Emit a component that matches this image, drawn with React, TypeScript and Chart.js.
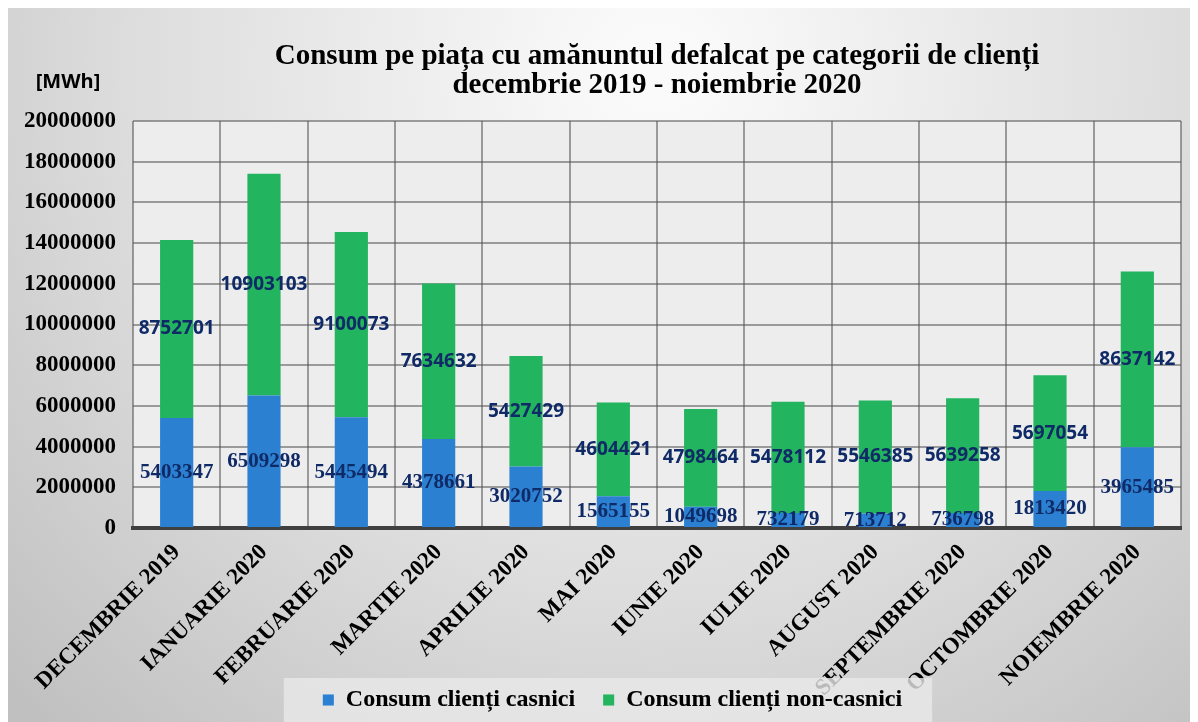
import React, { useEffect, useRef } from 'react';
import { Chart, registerables } from 'chart.js';

Chart.register(...registerables);

const titleLines = [
  'Consum pe piața cu amănuntul defalcat pe categorii de clienți',
  'decembrie 2019 - noiembrie 2020',
];
const unitLabel = '[MWh]';
const categories = [
  'DECEMBRIE 2019',
  'IANUARIE 2020',
  'FEBRUARIE 2020',
  'MARTIE 2020',
  'APRILIE 2020',
  'MAI 2020',
  'IUNIE 2020',
  'IULIE 2020',
  'AUGUST 2020',
  'SEPTEMBRIE 2020',
  'OCTOMBRIE 2020',
  'NOIEMBRIE 2020',
];
const seriesNames = ['Consum clienți casnici', 'Consum clienți non-casnici'];
const casnici = [5403347, 6509298, 5445494, 4378661, 3020752, 1565155, 1049698, 732179, 713712, 736798, 1813420, 3965485];
const nonCasnici = [8752701, 10903103, 9100073, 7634632, 5427429, 4604421, 4798464, 5478112, 5546385, 5639258, 5697054, 8637142];
const yMin = 0;
const yMax = 20000000;
const yStep = 2000000;

const SERIF = '"Liberation Serif", "Times New Roman", serif';
const SANS = '"Open Sans", "Liberation Sans", sans-serif';

export default function App() {
  const ref = useRef<HTMLCanvasElement>(null);

  useEffect(() => {
    document.documentElement.style.overflow = 'hidden';
    document.body.style.overflow = 'hidden';
    const canvas = ref.current!;

    const decor = {
      id: 'decor',
      afterLayout(chart: any) {
        const lg = chart.legend;
        if (lg) {
          lg.left += 36;
          lg.width -= 36;
        }
        const xs = chart.scales.x;
        if (xs) xs.bottom += 30;
      },
      beforeDraw(chart: any) {
        const c = chart.ctx;
        const { width, height, chartArea: a } = chart;
        c.save();
        const g = c.createRadialGradient(650, 60, 40, 650, 60, 900);
        g.addColorStop(0, '#fafafa');
        g.addColorStop(0.55, '#dedede');
        g.addColorStop(1, '#c0c0c0');
        c.fillStyle = g;
        c.fillRect(0, 0, width, height);
        c.fillStyle = '#ededed';
        c.fillRect(a.left, a.top, a.right - a.left, a.bottom - a.top);
        c.font = `bold 20px ${SANS}`;
        c.fillStyle = '#000';
        c.textAlign = 'center';
        c.textBaseline = 'middle';
        c.fillText(unitLabel, 60, 74);
        c.restore();
      },
      afterDatasetsDraw(chart: any) {
        const c = chart.ctx;
        c.save();
        const lg = chart.legend;
        if (lg && lg.legendHitBoxes && lg.legendHitBoxes.length) {
          const hb = lg.legendHitBoxes;
          const x0 = hb[0].left - 39;
          const last = hb[hb.length - 1];
          const x1 = last.left + last.width + 30;
          c.fillStyle = 'rgba(232,232,232,0.8)';
          c.fillRect(x0, lg.top, x1 - x0, lg.bottom - lg.top + 10);
          lg.draw();
        }
        c.textAlign = 'center';
        c.textBaseline = 'middle';
        c.fillStyle = '#0f2a66';
        chart.data.datasets.forEach((ds: any, di: number) => {
          const meta = chart.getDatasetMeta(di);
          c.font = di === 0 ? `bold 21px ${SERIF}` : `bold 19px ${SANS}`;
          meta.data.forEach((bar: any, i: number) => {
            const p = bar.getProps(['x', 'y', 'base'], true);
            c.fillText(String(ds.data[i]), p.x, (p.y + p.base) / 2);
          });
        });
        c.restore();
      },
    };

    const gridColor = 'rgba(85,85,85,0.55)';

    const chart = new Chart(canvas, {
      type: 'bar',
      data: {
        labels: categories,
        datasets: [
          {
            label: seriesNames[0],
            data: casnici,
            backgroundColor: '#2b80d2',
            barPercentage: 1,
            categoryPercentage: 0.38,
          },
          {
            label: seriesNames[1],
            data: nonCasnici,
            backgroundColor: '#22b45e',
            barPercentage: 1,
            categoryPercentage: 0.38,
          },
        ],
      },
      options: {
        responsive: false,
        animation: false,
        layout: { padding: { left: 0, right: 9, top: 0, bottom: 0 } },
        plugins: {
          title: {
            display: true,
            text: titleLines,
            fullSize: false,
            color: '#000',
            font: { family: SERIF, size: 29, weight: 'bold', lineHeight: 0.966 },
            padding: { top: 35, bottom: 22 },
          },
          legend: {
            position: 'bottom',
            labels: {
              boxWidth: 11,
              boxHeight: 11,
              padding: 10,
              color: '#000',
              font: { family: SERIF, size: 24, weight: 'bold' },
              generateLabels: (ch: any) => {
                const items = (Chart as any).defaults.plugins.legend.labels.generateLabels(ch);
                if (items.length) items[0].text = items[0].text + '   ';
                return items;
              },
            },
          },
          tooltip: { enabled: false },
        },
        scales: {
          x: {
            stacked: true,
            grid: { color: gridColor, lineWidth: 2, drawTicks: false, offset: true },
            border: { color: '#404040', width: 4 },
            ticks: {
              color: '#000',
              font: { family: SERIF, size: 23, weight: 'bold' },
              maxRotation: 45,
              minRotation: 45,
              autoSkip: false,
              padding: 11,
            },
            afterFit: (s: any) => {
              s.height = 150;
            },
          },
          y: {
            stacked: true,
            min: yMin,
            max: yMax,
            ticks: {
              stepSize: yStep,
              color: '#000',
              font: { family: SERIF, size: 23, weight: 'bold' },
              padding: 17,
              callback: (v: any) => String(v),
            },
            grid: { color: gridColor, lineWidth: 2, drawTicks: false },
            border: { display: false },
            afterFit: (s: any) => {
              s.width = 125;
            },
          },
        },
      },
      plugins: [decor],
    } as any);

    return () => chart.destroy();
  }, []);

  return <canvas ref={ref} width={1182} height={714} style={{ display: 'block' }} />;
}
